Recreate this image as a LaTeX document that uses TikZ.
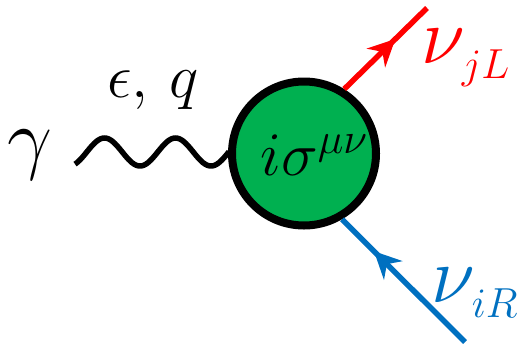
\RequirePackage{fix-cm}
\documentclass[tikz,border=0pt]{standalone}
\usetikzlibrary{arrows.meta,decorations.markings}
\definecolor{blobgreen}{HTML}{00B050}
\definecolor{nured}{HTML}{FF0000}
\definecolor{nublue}{HTML}{0070C0}
\tikzset{
  blob/.style={circle,draw=black,line width=8pt,fill=blobgreen,minimum size=144pt,inner sep=0pt},
  photon/.style={line width=5.5pt},
  fermion/.style={line width=5.5pt,postaction={decorate},
    decoration={markings,mark=at position #1 with {\arrow{Stealth[length=27pt,width=26pt]}}}},
  biglabel/.style={font=\fontsize{80}{90}\selectfont,inner sep=0pt},
  smalllabel/.style={font=\fontsize{62}{70}\selectfont,inner sep=0pt}
}
\newcommand{\legsub}[1]{\hspace{-3pt}\raisebox{-15pt}{\fontsize{42}{42}\selectfont$#1$}}
\begin{document}
\begin{tikzpicture}[x=1pt,y=-1pt]
  \useasboundingbox (0,0) rectangle (524,346);
  % vertex blob
  \node[blob] (blob) at (304,153.5) {};
  \node[smalllabel] (sig) at (314,155) {$i\sigma^{\mu\nu}$};
  % neutrino legs
  \coordinate (nuLend) at (427,8);
  \coordinate (nuRend) at (465,342);
  \draw[fermion=0.62,nured] (blob.58) -- (nuLend);
  \draw[fermion=0.74,nublue] (nuRend) -- (blob.-60);
  % photon leg
  \draw[photon] plot[domain=75:229,samples=90,smooth] (\x,{152+14*cos(5.0704*(\x-69))});
  % labels
  \node[biglabel,anchor=base] (gam) at (30,164) {$\gamma$};
  \node[smalllabel,anchor=base] (pol) at (153,97) {$\epsilon,\,q$};
  \node[biglabel,anchor=base west,text=nured] (nuL) at (421,63) {$\nu$\legsub{jL}};
  \node[biglabel,anchor=base west,text=nublue] (nuR) at (431,302) {$\nu$\legsub{iR}};
\end{tikzpicture}
\end{document}
